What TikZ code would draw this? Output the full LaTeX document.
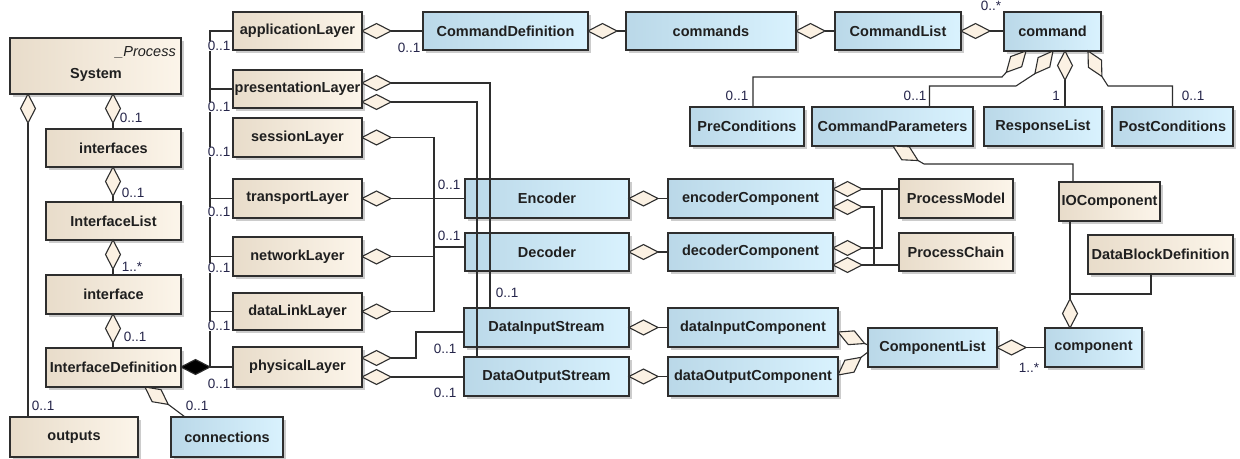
\documentclass[tikz,border=0pt]{standalone}
\usepackage{fontspec}
\setmainfont{Liberation Sans}
\usetikzlibrary{calc,shadows}
\definecolor{bgA}{HTML}{E8DCCA}
\definecolor{bgB}{HTML}{FCF5EA}
\definecolor{blA}{HTML}{BAD8E8}
\definecolor{blB}{HTML}{D9F2FE}
\definecolor{edgec}{HTML}{2E2E2E}
\definecolor{lblc}{HTML}{25254A}
\definecolor{dfill}{HTML}{FBF1E3}
\tikzset{
  base/.style={draw=edgec, line width=1.2bp, inner sep=0pt, outer sep=0pt,
    font=\fontsize{14.5bp}{16bp}\selectfont\bfseries, text=black!88,
    drop shadow={shadow xshift=3bp, shadow yshift=-3bp, fill=black!20, opacity=1}},
  tanbox/.style={base, left color=bgA, right color=bgB},
  blubox/.style={base, left color=blA, right color=blB},
  conn/.style={draw=edgec, line width=1.1bp},
  mult/.style={font=\fontsize{13.5bp}{15bp}\selectfont, text=lblc, inner sep=0.6bp, fill=white},
  plain/.style={font=\fontsize{14.5bp}{16bp}\selectfont, text=black!88, inner sep=0pt},
}
% box: style, name, x1, y1, x2, y2, text
\newcommand\bx[7]{\node[#1, minimum width={(#5-#3)*1bp}, minimum height={(#6-#4)*1bp}] (#2) at ({(#3+#5)/2},{(#4+#6)/2}) {#7};}
% diamond: name of tip, start point, toward point, fill
\newcommand\dmd[4]{%
  \coordinate (#1) at ($#2!29bp!#3$);
  \coordinate (#1m) at ($#2!14.5bp!#3$);
  \filldraw[conn, fill=#4] #2 -- ($(#1m)!7.5bp!90:(#1)$) -- (#1) -- ($(#1m)!7.5bp!-90:(#1)$) -- cycle;}
\begin{document}
\begin{tikzpicture}[x=1bp, y=-1bp]
\fill[white] (0,0) rectangle (1240,459);
\useasboundingbox (0,0) rectangle (1240,459);

% ---------- tan boxes ----------
\bx{tanbox}{system}{10}{38}{181}{94}{}
\node[plain, anchor=east] (systereo) at (176,52) {\itshape\_Process};
\node[plain, font=\fontsize{14.5bp}{16bp}\selectfont\bfseries] (systxt) at (96,75) {System};
\bx{tanbox}{ifaces}{46}{129}{181}{167}{interfaces}
\bx{tanbox}{ilist}{46}{202}{181}{240}{InterfaceList}
\bx{tanbox}{iface}{46}{275}{181}{314}{interface}
\bx{tanbox}{idef}{46}{348}{181}{387}{InterfaceDefinition}
\bx{tanbox}{outputs}{10}{417}{138}{457}{outputs}
\bx{tanbox}{applay}{233}{12}{362}{50}{applicationLayer}
\bx{tanbox}{preslay}{233}{70}{362}{108}{presentationLayer}
\bx{tanbox}{sesslay}{233}{118}{362}{157}{sessionLayer}
\bx{tanbox}{translay}{233}{179}{362}{218}{transportLayer}
\bx{tanbox}{netlay}{233}{237}{362}{276}{networkLayer}
\bx{tanbox}{dlinklay}{233}{293}{362}{330}{dataLinkLayer}
\bx{tanbox}{physlay}{233}{347}{362}{387}{physicalLayer}
\bx{tanbox}{procmodel}{899}{179}{1013}{218}{ProcessModel}
\bx{tanbox}{procchain}{899}{233}{1013}{271}{ProcessChain}
\bx{tanbox}{iocomp}{1059}{182}{1160}{221}{IOComponent}
\bx{tanbox}{dbd}{1088}{235}{1233}{274}{DataBlockDefinition}

% ---------- blue boxes ----------
\bx{blubox}{connections}{171}{417}{283}{457}{connections}
\bx{blubox}{cmddef}{423}{12}{588}{50}{CommandDefinition}
\bx{blubox}{commands}{626}{12}{796}{50}{commands}
\bx{blubox}{cmdlist}{835}{12}{961}{50}{CommandList}
\bx{blubox}{command}{1004}{12}{1101}{51}{command}
\bx{blubox}{precond}{690}{107}{804}{146}{PreConditions}
\bx{blubox}{cmdpar}{812}{107}{973}{146}{CommandParameters}
\bx{blubox}{resp}{984}{107}{1102}{146}{ResponseList}
\bx{blubox}{postc}{1112}{107}{1233}{146}{PostConditions}
\bx{blubox}{encoder}{465}{179}{629}{218}{Encoder}
\bx{blubox}{decoder}{465}{233}{629}{271}{Decoder}
\bx{blubox}{enccomp}{668}{179}{833}{218}{encoderComponent}
\bx{blubox}{deccomp}{668}{233}{833}{271}{decoderComponent}
\bx{blubox}{dis}{464}{308}{629}{347}{DataInputStream}
\bx{blubox}{dos}{464}{357}{629}{396}{DataOutputStream}
\bx{blubox}{dicomp}{668}{308}{838}{347}{dataInputComponent}
\bx{blubox}{docomp}{668}{357}{838}{396}{dataOutputComponent}
\bx{blubox}{complist}{868}{328}{997}{367}{ComponentList}
\bx{blubox}{component}{1045}{328}{1142}{367}{component}

% ---------- left column ----------
\dmd{dSysIf}{(113,94)}{(113,129)}{dfill}
\draw[conn] (dSysIf) -- (dSysIf |- ifaces.north);
\dmd{dSysOut}{(28,94)}{(28,417)}{dfill}
\draw[conn] (dSysOut) -- (dSysOut |- outputs.north);
\dmd{dIfIl}{(113,167)}{(113,202)}{dfill}
\draw[conn] (dIfIl) -- (dIfIl |- ilist.north);
\dmd{dIlI}{(113,240)}{(113,275)}{dfill}
\draw[conn] (dIlI) -- (dIlI |- iface.north);
\dmd{dIID}{(113,314)}{(113,348)}{dfill}
\draw[conn] (dIID) -- (dIID |- idef.north);
\dmd{dIDc}{(145,387)}{(185,417)}{dfill}
\draw[conn] (dIDc) -- ([xshift=14bp]connections.north west);

% composition to the layers
\draw[conn] (210,367) -- (physlay.west);
\foreach \n in {applay,preslay,translay,netlay,dlinklay}
  \draw[conn] (210,367) |- (\n.west);
\dmd{dIDp}{(181,367)}{(233,367)}{black}

% ---------- layers to the right ----------
\dmd{dApp}{(362,31)}{(423,31)}{dfill}
\draw[conn] (dApp) -- (cmddef.west);
\dmd{dCD}{(588,31)}{(626,31)}{dfill}
\draw[conn] (dCD) -- (commands.west);
\dmd{dCs}{(796,31)}{(835,31)}{dfill}
\draw[conn] (dCs) -- (cmdlist.west);
\dmd{dCL}{(961,31)}{(1004,31)}{dfill}
\draw[conn] (dCL) -- (command.west |- dCL);

\dmd{dPre}{(1026,51)}{(1002,77)}{dfill}
\draw[conn] (dPre) -- (1002,77) -| ([xshift=6bp]precond.north);
\dmd{dPar}{(1053,51)}{(1033,76)}{dfill}
\draw[conn] (dPar) -- (1016,86) -| ([xshift=37bp]cmdpar.north);
\dmd{dResp}{(1065,51)}{(1065,107)}{dfill}
\draw[conn] (dResp) -- (dResp |- resp.north);
\dmd{dPost}{(1088,51)}{(1106,84)}{dfill}
\draw[conn] (dPost) -- (1108,86) -| (postc.north);

\dmd{dIO}{(893,146)}{(924,164)}{dfill}
\draw[conn] (dIO) -- (924,164) -| ([xshift=14bp]iocomp.north west);
\dmd{dComp}{(1070,328)}{(1070,221)}{dfill}
\draw[conn] (dComp) -- (dComp |- iocomp.south);
\draw[conn] (1070,294) -| ([xshift=63bp]dbd.south west);
\dmd{dCL2}{(997,347.5)}{(1045,347.5)}{dfill}
\draw[conn] (dCL2) -- (component.west);
\dmd{dDIC}{(838,332)}{(868,345)}{dfill}
\draw[conn] (dDIC) -- ([yshift=2.5bp]complist.west);
\dmd{dDOC}{(838,375)}{(868,352)}{dfill}
\draw[conn] (dDOC) -- ([yshift=-4.5bp]complist.west);

\dmd{dDIS}{(629,327.5)}{(668,327.5)}{dfill}
\draw[conn] (dDIS) -- (dicomp.west);
\dmd{dDOS}{(629,376.5)}{(668,376.5)}{dfill}
\draw[conn] (dDOS) -- (docomp.west);
\dmd{dEnc}{(629,198.5)}{(668,198.5)}{dfill}
\draw[conn] (dEnc) -- (enccomp.west);
\dmd{dDec}{(629,252)}{(668,252)}{dfill}
\draw[conn] (dDec) -- (deccomp.west);

\dmd{dEC1}{(833,189)}{(899,189)}{dfill}
\draw[conn] (dEC1) -- (dEC1 -| procmodel.west);
\dmd{dEC2}{(833,207)}{(899,207)}{dfill}
\draw[conn] (dEC2) -- (874,207) -- (874,265) -- (procchain.west |- 874,265);
\dmd{dDC1}{(833,248)}{(899,248)}{dfill}
\draw[conn] (dDC1) -- (882,248) -- (882,189) -- (procmodel.west |- 882,189);
\dmd{dDC2}{(833,265)}{(899,265)}{dfill}
\draw[conn] (dDC2) -- (dDC2 -| procchain.west);

\dmd{dPr1}{(362,83)}{(400,83)}{dfill}
\draw[conn] (dPr1) -- (490,83) -- (490 ,308);
\dmd{dPr2}{(362,102)}{(400,102)}{dfill}
\draw[conn] (dPr2) -- (477,102) -- (477,357);
\dmd{dSe}{(362,137.5)}{(400,137.5)}{dfill}
\draw[conn] (dSe) -- (434,137.5) -- (434,247) -- (decoder.west |- 434,247);
\dmd{dTr}{(362,198.5)}{(400,198.5)}{dfill}
\draw[conn] (dTr) -- (encoder.west);
\dmd{dNw}{(362,256.5)}{(400,256.5)}{dfill}
\draw[conn] (dNw) -- (434,256.5) -- (434,247) -- (decoder.west |- 434,247);
\dmd{dDl}{(362,311.5)}{(400,311.5)}{dfill}
\draw[conn] (dDl) -- (434,311.5) -- (434,198.5) -- (encoder.west);
\dmd{dPh1}{(362,358)}{(400,358)}{dfill}
\draw[conn] (dPh1) -- (416,358) -- (416,332) -- (dis.west |- 416,332);
\dmd{dPh2}{(362,377)}{(400,377)}{dfill}
\draw[conn] (dPh2) -- (dos.west |- dPh2);

% ---------- multiplicities ----------
\node[mult, anchor=west] (mA) at (119,118) {0..1};
\node[mult, anchor=west] (mB) at (121,193) {0..1};
\node[mult, anchor=west] (mC) at (121,267) {1..*};
\node[mult, anchor=west] (mD) at (123,337) {0..1};
\node[mult, anchor=west] (mE) at (31,406) {0..1};
\node[mult, anchor=west] (mF) at (185,406) {0..1};
\node[mult, anchor=west] (mL1) at (207,46) {0..1};
\node[mult, anchor=west] (mL2) at (207,107) {0..1};
\node[mult, anchor=west] (mL3) at (207,152) {0..1};
\node[mult, anchor=west] (mL4) at (207,212) {0..1};
\node[mult, anchor=west] (mL5) at (207,268) {0..1};
\node[mult, anchor=west] (mL6) at (207,326) {0..1};
\node[mult, anchor=west] (mL7) at (207,384) {0..1};
\node[mult, anchor=west] (mG) at (397,48) {0..1};
\node[mult, anchor=west] (mH) at (980,6) {0..*};
\node[mult, anchor=center] (mI) at (737,96) {0..1};
\node[mult, anchor=center] (mJ) at (915,96) {0..1};
\node[mult, anchor=center] (mK) at (1056,96) {1};
\node[mult, anchor=center] (mM) at (1193,96) {0..1};
\node[mult, anchor=west] (mN) at (437,185) {0..1};
\node[mult, anchor=west] (mO) at (437,236) {0..1};
\node[mult, anchor=west] (mP) at (495,293) {0..1};
\node[mult, anchor=west] (mQ) at (433,349) {0..1};
\node[mult, anchor=west] (mR) at (433,393) {0..1};
\node[mult, anchor=west] (mS) at (1018,368) {1..*};
\end{tikzpicture}
\end{document}
